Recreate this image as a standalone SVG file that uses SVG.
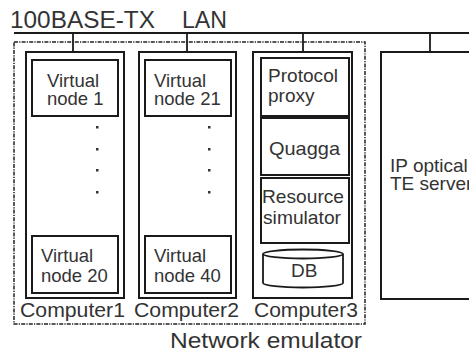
<svg xmlns="http://www.w3.org/2000/svg" width="469" height="354" viewBox="0 0 469 354">
<style>
text{font-family:"Liberation Sans",Arial,sans-serif;fill:#333}
.box{fill:#fff;stroke:#1a1a1a;stroke-width:2}
.ln{fill:none;stroke:#1a1a1a;stroke-width:1.8}
.dot{fill:#333}
.t18{font-size:18.5px}
.t19{font-size:19px}
.t21{font-size:21px}
</style>
<rect width="469" height="354" fill="#fff"/>
<text x="10" y="28" font-size="23" textLength="145" lengthAdjust="spacingAndGlyphs">100BASE-TX</text>
<text x="182" y="28" font-size="23" textLength="45" lengthAdjust="spacingAndGlyphs">LAN</text>
<g id="connectors">
<line class="ln" x1="14" y1="33" x2="469" y2="33"/>
<line class="ln" x1="73" y1="33" x2="73" y2="52"/>
<line class="ln" x1="187" y1="33" x2="187" y2="52"/>
<line class="ln" x1="303" y1="33" x2="303" y2="52"/>
<line class="ln" x1="430" y1="33" x2="430" y2="52"/>
</g>
<g id="network-emulator">
<rect x="14" y="42" width="351" height="282" fill="none" stroke="#222" stroke-width="1.5" stroke-dasharray="4,1.2,1.2,1.2"/>
<text x="170" y="348" font-size="22" textLength="192" lengthAdjust="spacingAndGlyphs">Network emulator</text>
</g>
<g id="computer1">
<rect class="box" x="26" y="52" width="98" height="246"/>
<text class="t21" x="20" y="317" textLength="105" lengthAdjust="spacingAndGlyphs">Computer1</text>
</g>
<g id="vnode1">
<rect class="box" x="32" y="60" width="86" height="56"/>
<text class="t18" x="47" y="87">Virtual</text>
<text class="t18" x="47" y="105">node 1</text>
</g>
<g id="dots1">
<rect class="dot" x="96" y="126" width="2.5" height="2.5"/>
<rect class="dot" x="96" y="148" width="2.5" height="2.5"/>
<rect class="dot" x="96" y="169" width="2.5" height="2.5"/>
<rect class="dot" x="96" y="191" width="2.5" height="2.5"/>
</g>
<g id="vnode20">
<rect class="box" x="32" y="236" width="86" height="57"/>
<text class="t18" x="41" y="262">Virtual</text>
<text class="t18" x="41" y="282">node 20</text>
</g>
<g id="computer2">
<rect class="box" x="139" y="52" width="97" height="246"/>
<text class="t21" x="134" y="317" textLength="105" lengthAdjust="spacingAndGlyphs">Computer2</text>
</g>
<g id="vnode21">
<rect class="box" x="145" y="60" width="86" height="56"/>
<text class="t18" x="154" y="87">Virtual</text>
<text class="t18" x="154" y="105">node 21</text>
</g>
<g id="dots2">
<rect class="dot" x="208" y="126" width="2.5" height="2.5"/>
<rect class="dot" x="208" y="148" width="2.5" height="2.5"/>
<rect class="dot" x="208" y="169" width="2.5" height="2.5"/>
<rect class="dot" x="208" y="191" width="2.5" height="2.5"/>
</g>
<g id="vnode40">
<rect class="box" x="145" y="236" width="86" height="57"/>
<text class="t18" x="154" y="262">Virtual</text>
<text class="t18" x="154" y="282">node 40</text>
</g>
<g id="computer3">
<rect class="box" x="253" y="52" width="99" height="246"/>
<text class="t21" x="254" y="317" textLength="104" lengthAdjust="spacingAndGlyphs">Computer3</text>
</g>
<g id="protocol-proxy">
<rect class="box" x="261" y="58" width="88" height="58"/>
<text class="t19" x="268" y="82" textLength="70" lengthAdjust="spacingAndGlyphs">Protocol</text>
<text class="t19" x="268" y="102">proxy</text>
</g>
<g id="quagga">
<rect class="box" x="261" y="118" width="88" height="57"/>
<text class="t19" x="269" y="155" textLength="71" lengthAdjust="spacingAndGlyphs">Quagga</text>
</g>
<g id="resource-simulator">
<rect class="box" x="261" y="178" width="88" height="65"/>
<text class="t19" x="262" y="203" textLength="82" lengthAdjust="spacingAndGlyphs">Resource</text>
<text class="t19" x="263" y="224" textLength="78" lengthAdjust="spacingAndGlyphs">simulator</text>
</g>
<g id="db">
<path d="M263,254 A40,4.5 0 0,1 343,254 L343,283 A40,4.5 0 0,1 263,283 Z" fill="#fff" stroke="#1a1a1a" stroke-width="1.8"/>
<path d="M263,254 A40,4.5 0 0,0 343,254" fill="none" stroke="#1a1a1a" stroke-width="1.8"/>
<text class="t19" x="291" y="277">DB</text>
</g>
<g id="ip-optical-te-server">
<rect class="box" x="381" y="52" width="100" height="247"/>
<text class="t19" x="390" y="172">IP optical</text>
<text class="t19" x="390" y="190">TE server</text>
</g>
</svg>
